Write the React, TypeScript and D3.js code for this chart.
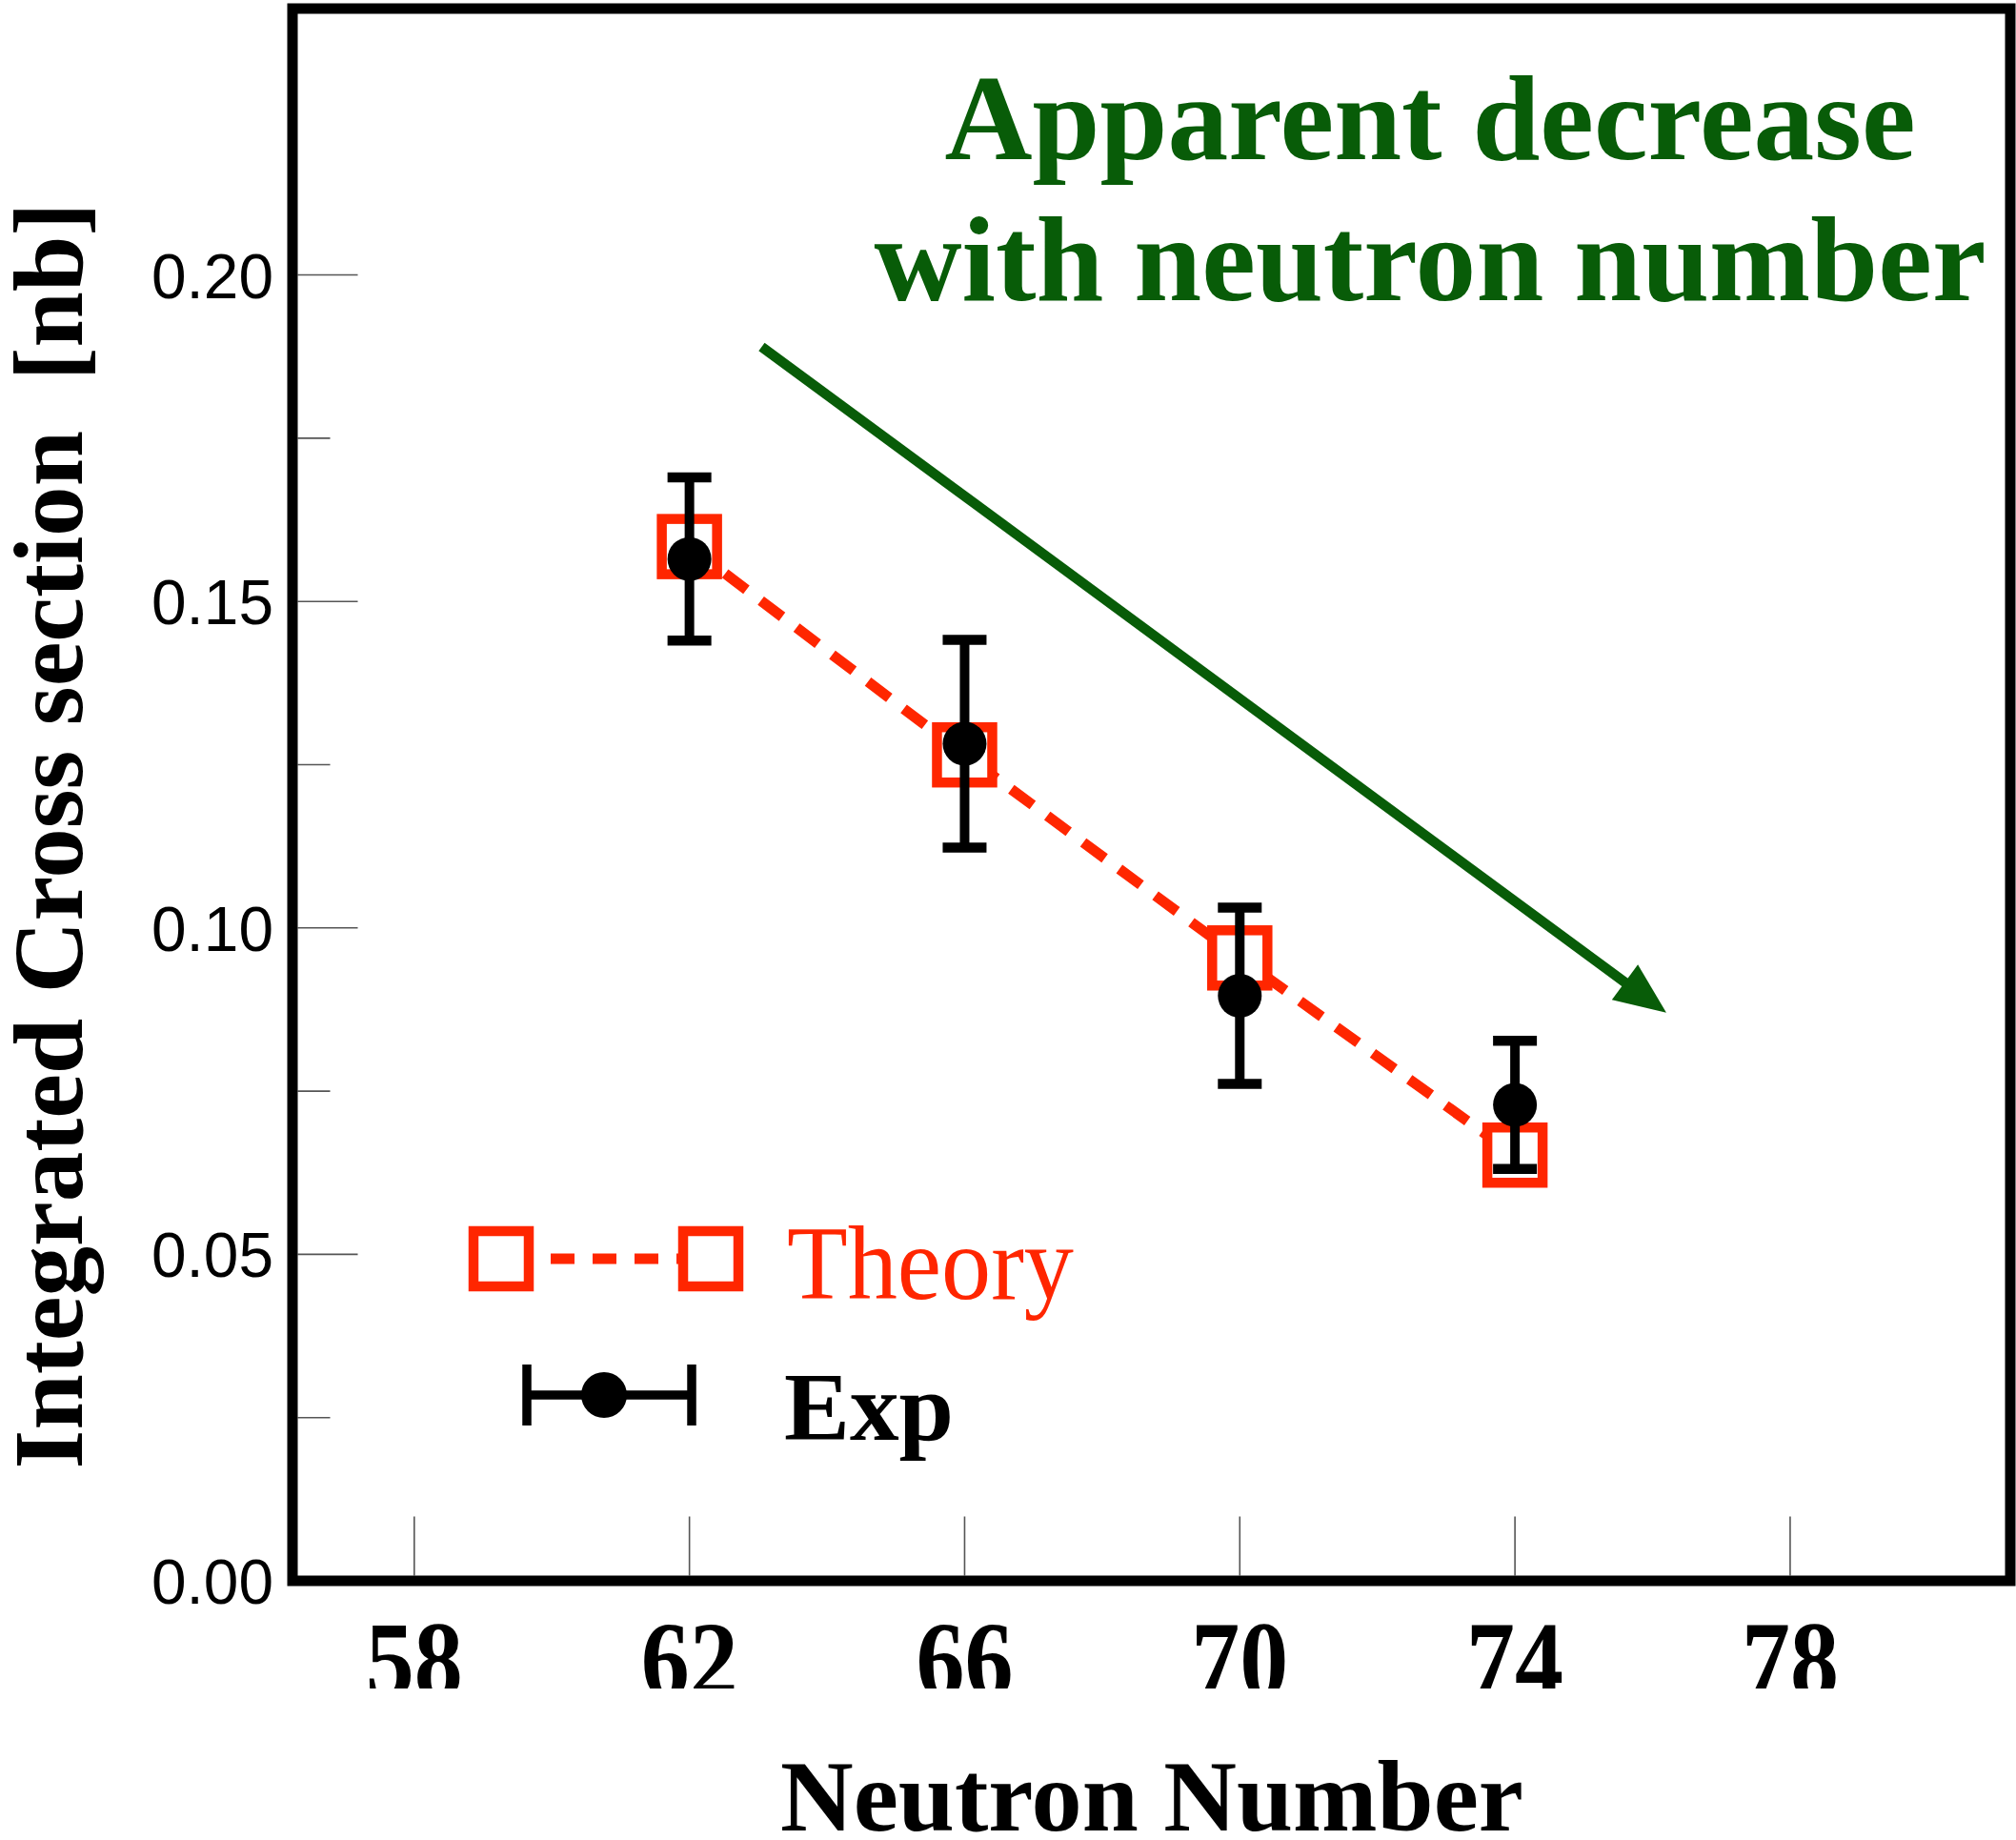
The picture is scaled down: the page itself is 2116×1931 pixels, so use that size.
import React from "react";
import * as d3 from "d3";

// ---- data ----
const neutronNumber = [62, 66, 70, 74];
const theoryValues = [0.1584, 0.1265, 0.0954, 0.0652];
const expValues = [0.1565, 0.1282, 0.0896, 0.0729];
const expErrors = [0.0125, 0.0159, 0.0135, 0.0098];
const xTickValues = [58, 62, 66, 70, 74, 78];
const yMajorTicks = [0, 0.05, 0.1, 0.15, 0.2];
const yMinorTicks = [0.025, 0.075, 0.125, 0.175];
const xDomain = [56.23, 81.2];
const yDomain = [0, 0.2408];
const arrowFrom = [63.05, 0.189];
const arrowTo = [76.2, 0.087];
const titleLines = ["Apparent decrease", "with neutron number"];

const W = 2116;
const H = 1931;
const RED = "#ff2600";
const GREEN = "#085c08";
const SERIF = "'Liberation Serif', 'Times New Roman', serif";
const SANS = "'Liberation Sans', Arial, sans-serif";

export default function App() {
  const x = d3.scaleLinear().domain(xDomain).range([307, 2110]);
  const y = d3.scaleLinear().domain(yDomain).range([1659, 9]);
  const [x0, x1] = x.range();
  const [y0, y1] = y.range();
  const frameInnerBottom = y0 - 5.5;
  const frameInnerLeft = x0 + 5.5;

  const theoryLine = d3
    .line<number>()
    .x((_, i) => x(neutronNumber[i]))
    .y((d) => y(d))(theoryValues);

  const sq = 58; // square side (stroke centre)
  const capW = 46;

  // arrow
  const ax1 = x(arrowFrom[0]);
  const ay1 = y(arrowFrom[1]);
  const ax2 = x(arrowTo[0]);
  const ay2 = y(arrowTo[1]);
  const len = Math.hypot(ax2 - ax1, ay2 - ay1);
  const ux = (ax2 - ax1) / len;
  const uy = (ay2 - ay1) / len;
  const headL = 54;
  const headW = 23;
  const bx = ax2 - ux * headL;
  const by = ay2 - uy * headL;
  const head = `${ax2},${ay2} ${bx - uy * headW},${by + ux * headW} ${bx + uy * headW},${by - ux * headW}`;

  return (
    <svg
      width={W}
      height={H}
      style={{ position: "absolute", left: 0, top: 0, background: "#fff" }}
    >
      <defs>
        <clipPath id="xlabClip" clipPathUnits="userSpaceOnUse">
          <rect x={0} y={0} width={W} height={1772} />
        </clipPath>
      </defs>
      <rect x={0} y={0} width={W} height={H} fill="#fff" />

      {/* y ticks */}
      {yMajorTicks.map((t) => (
        <g key={"ym" + t}>
          {t > 0 && (
            <line
              x1={frameInnerLeft}
              x2={frameInnerLeft + 63}
              y1={y(t)}
              y2={y(t)}
              stroke="#555"
              strokeWidth={1.6}
            />
          )}
          <text
            x={287}
            y={y(t) + 24}
            textAnchor="end"
            fontFamily={SANS}
            fontSize={66}
            textLength={128}
            lengthAdjust="spacingAndGlyphs"
            fill="#000"
          >
            {t.toFixed(2)}
          </text>
        </g>
      ))}
      {yMinorTicks.map((t) => (
        <line
          key={"yn" + t}
          x1={frameInnerLeft}
          x2={frameInnerLeft + 34}
          y1={y(t)}
          y2={y(t)}
          stroke="#555"
          strokeWidth={1.6}
        />
      ))}

      {/* x ticks */}
      <g clipPath="url(#xlabClip)">
        {xTickValues.map((t) => (
          <text
            key={"xl" + t}
            x={x(t)}
            y={1781}
            textAnchor="middle"
            fontFamily={SERIF}
            fontWeight="bold"
            fontSize={114}
            textLength={102}
            lengthAdjust="spacingAndGlyphs"
            fill="#000"
          >
            {t}
          </text>
        ))}
      </g>
      {xTickValues.map((t) => (
        <line
          key={"xt" + t}
          x1={x(t)}
          x2={x(t)}
          y1={frameInnerBottom}
          y2={frameInnerBottom - 62}
          stroke="#555"
          strokeWidth={1.6}
        />
      ))}

      {/* frame */}
      <rect
        x={x0}
        y={y1}
        width={x1 - x0}
        height={y0 - y1}
        fill="none"
        stroke="#000"
        strokeWidth={11}
      />

      {/* arrow */}
      <line x1={ax1} y1={ay1} x2={bx + ux * 4} y2={by + uy * 4} stroke={GREEN} strokeWidth={10.5} />
      <polygon points={head} fill={GREEN} />

      {/* title */}
      <text
        x={1501}
        y={167}
        textAnchor="middle"
        fontFamily={SERIF}
        fontWeight="bold"
        fontSize={127}
        textLength={1019}
        lengthAdjust="spacingAndGlyphs"
        fill={GREEN}
      >
        {titleLines[0]}
      </text>
      <text
        x={1501}
        y={315}
        textAnchor="middle"
        fontFamily={SERIF}
        fontWeight="bold"
        fontSize={127}
        textLength={1167}
        lengthAdjust="spacingAndGlyphs"
        fill={GREEN}
      >
        {titleLines[1]}
      </text>

      {/* theory dashed line */}
      <path
        d={theoryLine || ""}
        fill="none"
        stroke={RED}
        strokeWidth={11}
        strokeDasharray="28,19"
      />
      {neutronNumber.map((n, i) => (
        <rect
          key={"sq" + n}
          x={x(n) - sq / 2}
          y={y(theoryValues[i]) - sq / 2}
          width={sq}
          height={sq}
          fill="#fff"
          stroke={RED}
          strokeWidth={10.5}
        />
      ))}

      {/* experiment */}
      {neutronNumber.map((n, i) => {
        const cx = x(n);
        const top = y(expValues[i] + expErrors[i]);
        const bot = y(expValues[i] - expErrors[i]);
        return (
          <g key={"ex" + n}>
            <line x1={cx} x2={cx} y1={top} y2={bot} stroke="#000" strokeWidth={10} />
            <line x1={cx - capW / 2} x2={cx + capW / 2} y1={top} y2={top} stroke="#000" strokeWidth={10.5} />
            <line x1={cx - capW / 2} x2={cx + capW / 2} y1={bot} y2={bot} stroke="#000" strokeWidth={10.5} />
            <circle cx={cx} cy={y(expValues[i])} r={23} fill="#000" />
          </g>
        );
      })}

      {/* legend */}
      <line x1={526} x2={746} y1={1321} y2={1321} stroke={RED} strokeWidth={11} strokeDasharray="25,19" strokeDashoffset={-8} />
      <rect x={526 - sq / 2} y={1321 - sq / 2} width={sq} height={sq} fill="#fff" stroke={RED} strokeWidth={10.5} />
      <rect x={746 - sq / 2} y={1321 - sq / 2} width={sq} height={sq} fill="#fff" stroke={RED} strokeWidth={10.5} />
      <text
        x={826}
        y={1363}
        fontFamily={SERIF}
        fontSize={110}
        textLength={301}
        lengthAdjust="spacingAndGlyphs"
        fill={RED}
      >
        Theory
      </text>

      <line x1={553} x2={726} y1={1464} y2={1464} stroke="#000" strokeWidth={9.5} />
      <line x1={553} x2={553} y1={1432} y2={1496} stroke="#000" strokeWidth={9.5} />
      <line x1={726} x2={726} y1={1432} y2={1496} stroke="#000" strokeWidth={9.5} />
      <circle cx={634} cy={1464} r={24} fill="#000" />
      <text
        x={823}
        y={1511}
        fontFamily={SERIF}
        fontWeight="bold"
        fontSize={102}
        textLength={178}
        lengthAdjust="spacingAndGlyphs"
        fill="#000"
      >
        Exp
      </text>

      {/* axis titles */}
      <text
        x={1209}
        y={1921}
        textAnchor="middle"
        fontFamily={SERIF}
        fontWeight="bold"
        fontSize={106}
        textLength={780}
        lengthAdjust="spacingAndGlyphs"
        fill="#000"
      >
        Neutron Number
      </text>
      <text
        transform={`translate(86,877) rotate(-90)`}
        textAnchor="middle"
        fontFamily={SERIF}
        fontWeight="bold"
        fontSize={103}
        textLength={1329}
        lengthAdjust="spacingAndGlyphs"
        fill="#000"
        style={{ whiteSpace: "pre" }}
      >
        {"Integrated Cross section  [nb]"}
      </text>
    </svg>
  );
}
